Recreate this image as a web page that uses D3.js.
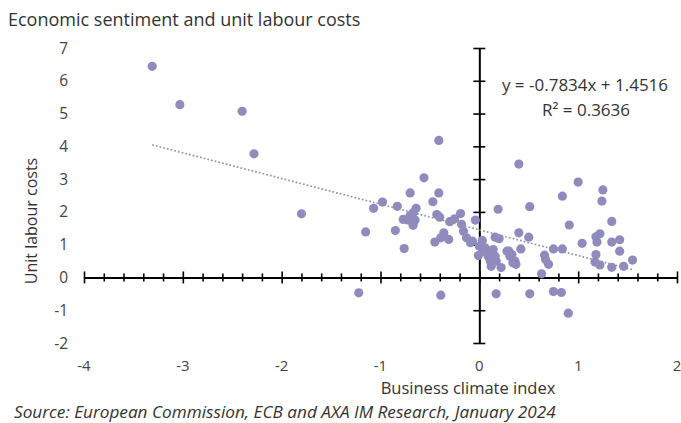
<!DOCTYPE html>
<html>
<head>
<meta charset="utf-8">
<script src="https://cdn.jsdelivr.net/npm/d3@7"></script>
<style>
  body { margin: 0; background: #fff; }
  svg text { font-family: "Open Sans", sans-serif; }
</style>
</head>
<body>
<svg width="681" height="423"></svg>
<script>
const svgWidth = 681;
const svgHeight = 423;

// business climate index (x) vs unit labour costs (y)
const climate = [
  -3.31, -3.03, -2.40, -2.28, -1.80,
  -1.22, -0.39, 0.17, 0.51, 0.75, 0.83, 0.90,
  -1.15, -1.07, -0.98, -0.85, -0.83, -0.76, -0.70, -0.64, -0.67, -0.70, -0.77, -0.72, -0.65, -0.67,
  -0.56, -0.41, -0.41, -0.47, -0.43, -0.40, -0.30, -0.25, -0.19, -0.18, -0.16, -0.13, -0.36, -0.39,
  -0.45, -0.31, -0.09, -0.04, -0.07,
  0.00, 0.03, 0.19, 0.40, 0.51, 0.40, 0.50, 0.16, 0.20, 0.42, 0.75, 0.84, 0.84, 1.00, 1.25, 1.24,
  1.34, 0.91, 1.04, 1.18, 1.22, 1.19, 1.34, 1.42, 1.42, 1.18, 1.17, 1.22, 1.34, 1.46, 1.55,
  0.66, 0.67, 0.70, 0.63, 0.30, 0.33, 0.36, 0.37,
  -0.01, 0.04, 0.09, 0.14, 0.16, 0.17, 0.11, 0.12, 0.22, 0.28, 0.31, 0.34, 0.06, 0.08
];
const labourCosts = [
  6.44, 5.27, 5.07, 3.77, 1.94,
  -0.47, -0.54, -0.50, -0.50, -0.43, -0.46, -1.09,
  1.39, 2.11, 2.30, 1.43, 2.17, 0.88, 2.58, 2.11, 1.97, 1.89, 1.77, 1.75, 1.75, 1.59,
  3.04, 4.18, 2.58, 2.31, 1.92, 1.84, 1.70, 1.79, 1.95, 1.62, 1.41, 1.21, 1.36, 1.21,
  1.08, 1.16, 1.06, 1.75, 1.11,
  0.95, 1.13, 2.08, 3.46, 2.16, 1.36, 1.23, 1.23, 1.18, 0.87, 0.87, 0.87, 2.48, 2.91, 2.67, 2.33,
  1.71, 1.60, 1.04, 1.24, 1.33, 1.08, 1.08, 1.15, 0.80, 0.70, 0.47, 0.38, 0.31, 0.34, 0.53,
  0.68, 0.55, 0.40, 0.11, 0.80, 0.70, 0.50, 0.40,
  0.67, 0.80, 0.65, 0.85, 0.65, 0.50, 0.50, 0.34, 0.30, 0.80, 0.65, 0.45, 0.90, 0.75
];

const xTicks = [-4, -3, -2, -1, 0, 1, 2];
const yTicks = [-2, -1, 0, 1, 2, 3, 4, 5, 6, 7];
const slope = -0.7834;
const intercept = 1.4516;
const trendExtent = [-3.31, 1.56];

const xScale = d3.scaleLinear()
    .domain([-4, 2])
    .range([84, 677]);

const yScale = d3.scaleLinear()
    .domain([-2, 7])
    .range([343, 48]);

const svg = d3.select("svg");

svg.append("text")
    .attr("x", 8)
    .attr("y", 26)
    .attr("font-size", 18)
    .attr("fill", "#333")
    .text("Economic sentiment and unit labour costs");

// tick labels
svg.selectAll(".ylab")
    .data(yTicks)
    .enter().append("text")
    .attr("class", "ylab")
    .attr("x", 68)
    .attr("y", d => yScale(d) + 5.5)
    .attr("text-anchor", "end")
    .attr("font-size", 15.5)
    .attr("fill", "#444")
    .text(d => d);

svg.selectAll(".xlab")
    .data(xTicks)
    .enter().append("text")
    .attr("class", "xlab")
    .attr("x", d => xScale(d))
    .attr("y", 371)
    .attr("text-anchor", "middle")
    .attr("font-size", 15)
    .attr("fill", "#444")
    .text(d => d);

// axes through the origin
const xAxis = d3.axisBottom(xScale)
    .tickValues(d3.range(-4, 2.001, 0.2))
    .tickFormat("")
    .tickSizeOuter(0);

const gx = svg.append("g")
    .attr("transform", `translate(0,${yScale(0)})`)
    .call(xAxis);
gx.select(".domain").attr("stroke", "#000").attr("stroke-width", 2);
gx.selectAll(".tick line")
    .attr("stroke", "#000")
    .attr("stroke-width", 1.6)
    .attr("y1", d => Math.abs(d - Math.round(d)) < 1e-6 ? -6 : -4)
    .attr("y2", d => Math.abs(d - Math.round(d)) < 1e-6 ? 6 : 4);

const yAxis = d3.axisLeft(yScale)
    .tickValues(yTicks)
    .tickFormat("")
    .tickSizeOuter(0);

const gy = svg.append("g")
    .attr("transform", `translate(${xScale(0)},0)`)
    .call(yAxis);
gy.select(".domain").attr("stroke", "#000").attr("stroke-width", 2);
gy.selectAll(".tick line")
    .attr("stroke", "#000")
    .attr("stroke-width", 1.6)
    .attr("x1", -6)
    .attr("x2", 6);

// points
const points = climate.map((x, i) => [x, labourCosts[i]]);
svg.append("g")
    .selectAll("circle")
    .data(points)
    .enter().append("circle")
    .attr("cx", d => xScale(d[0]))
    .attr("cy", d => yScale(d[1]))
    .attr("r", 4.6)
    .attr("fill", "#8f8bbd");

// linear trend
svg.append("line")
    .attr("x1", xScale(trendExtent[0]))
    .attr("y1", yScale(slope * trendExtent[0] + intercept))
    .attr("x2", xScale(trendExtent[1]))
    .attr("y2", yScale(slope * trendExtent[1] + intercept))
    .attr("stroke", "#9390ad")
    .attr("stroke-width", 1.7)
    .attr("stroke-dasharray", "1.7,2.1");

svg.append("text")
    .attr("x", 585)
    .attr("y", 91)
    .attr("text-anchor", "middle")
    .attr("font-size", 17)
    .attr("fill", "#333")
    .text("y = -0.7834x + 1.4516");

svg.append("text")
    .attr("x", 586)
    .attr("y", 116)
    .attr("text-anchor", "middle")
    .attr("font-size", 17)
    .attr("fill", "#333")
    .text("R² = 0.3636");

svg.append("text")
    .attr("x", 468)
    .attr("y", 394)
    .attr("text-anchor", "middle")
    .attr("font-size", 16.5)
    .attr("fill", "#333")
    .text("Business climate index");

svg.append("text")
    .attr("transform", "translate(37,221) rotate(-90)")
    .attr("text-anchor", "middle")
    .attr("font-size", 16)
    .attr("fill", "#333")
    .text("Unit labour costs");

svg.append("text")
    .attr("x", 14)
    .attr("y", 418)
    .attr("font-size", 17.2)
    .attr("font-style", "italic")
    .attr("fill", "#333")
    .text("Source: European Commission, ECB and AXA IM Research, January 2024");
</script>
</body>
</html>
